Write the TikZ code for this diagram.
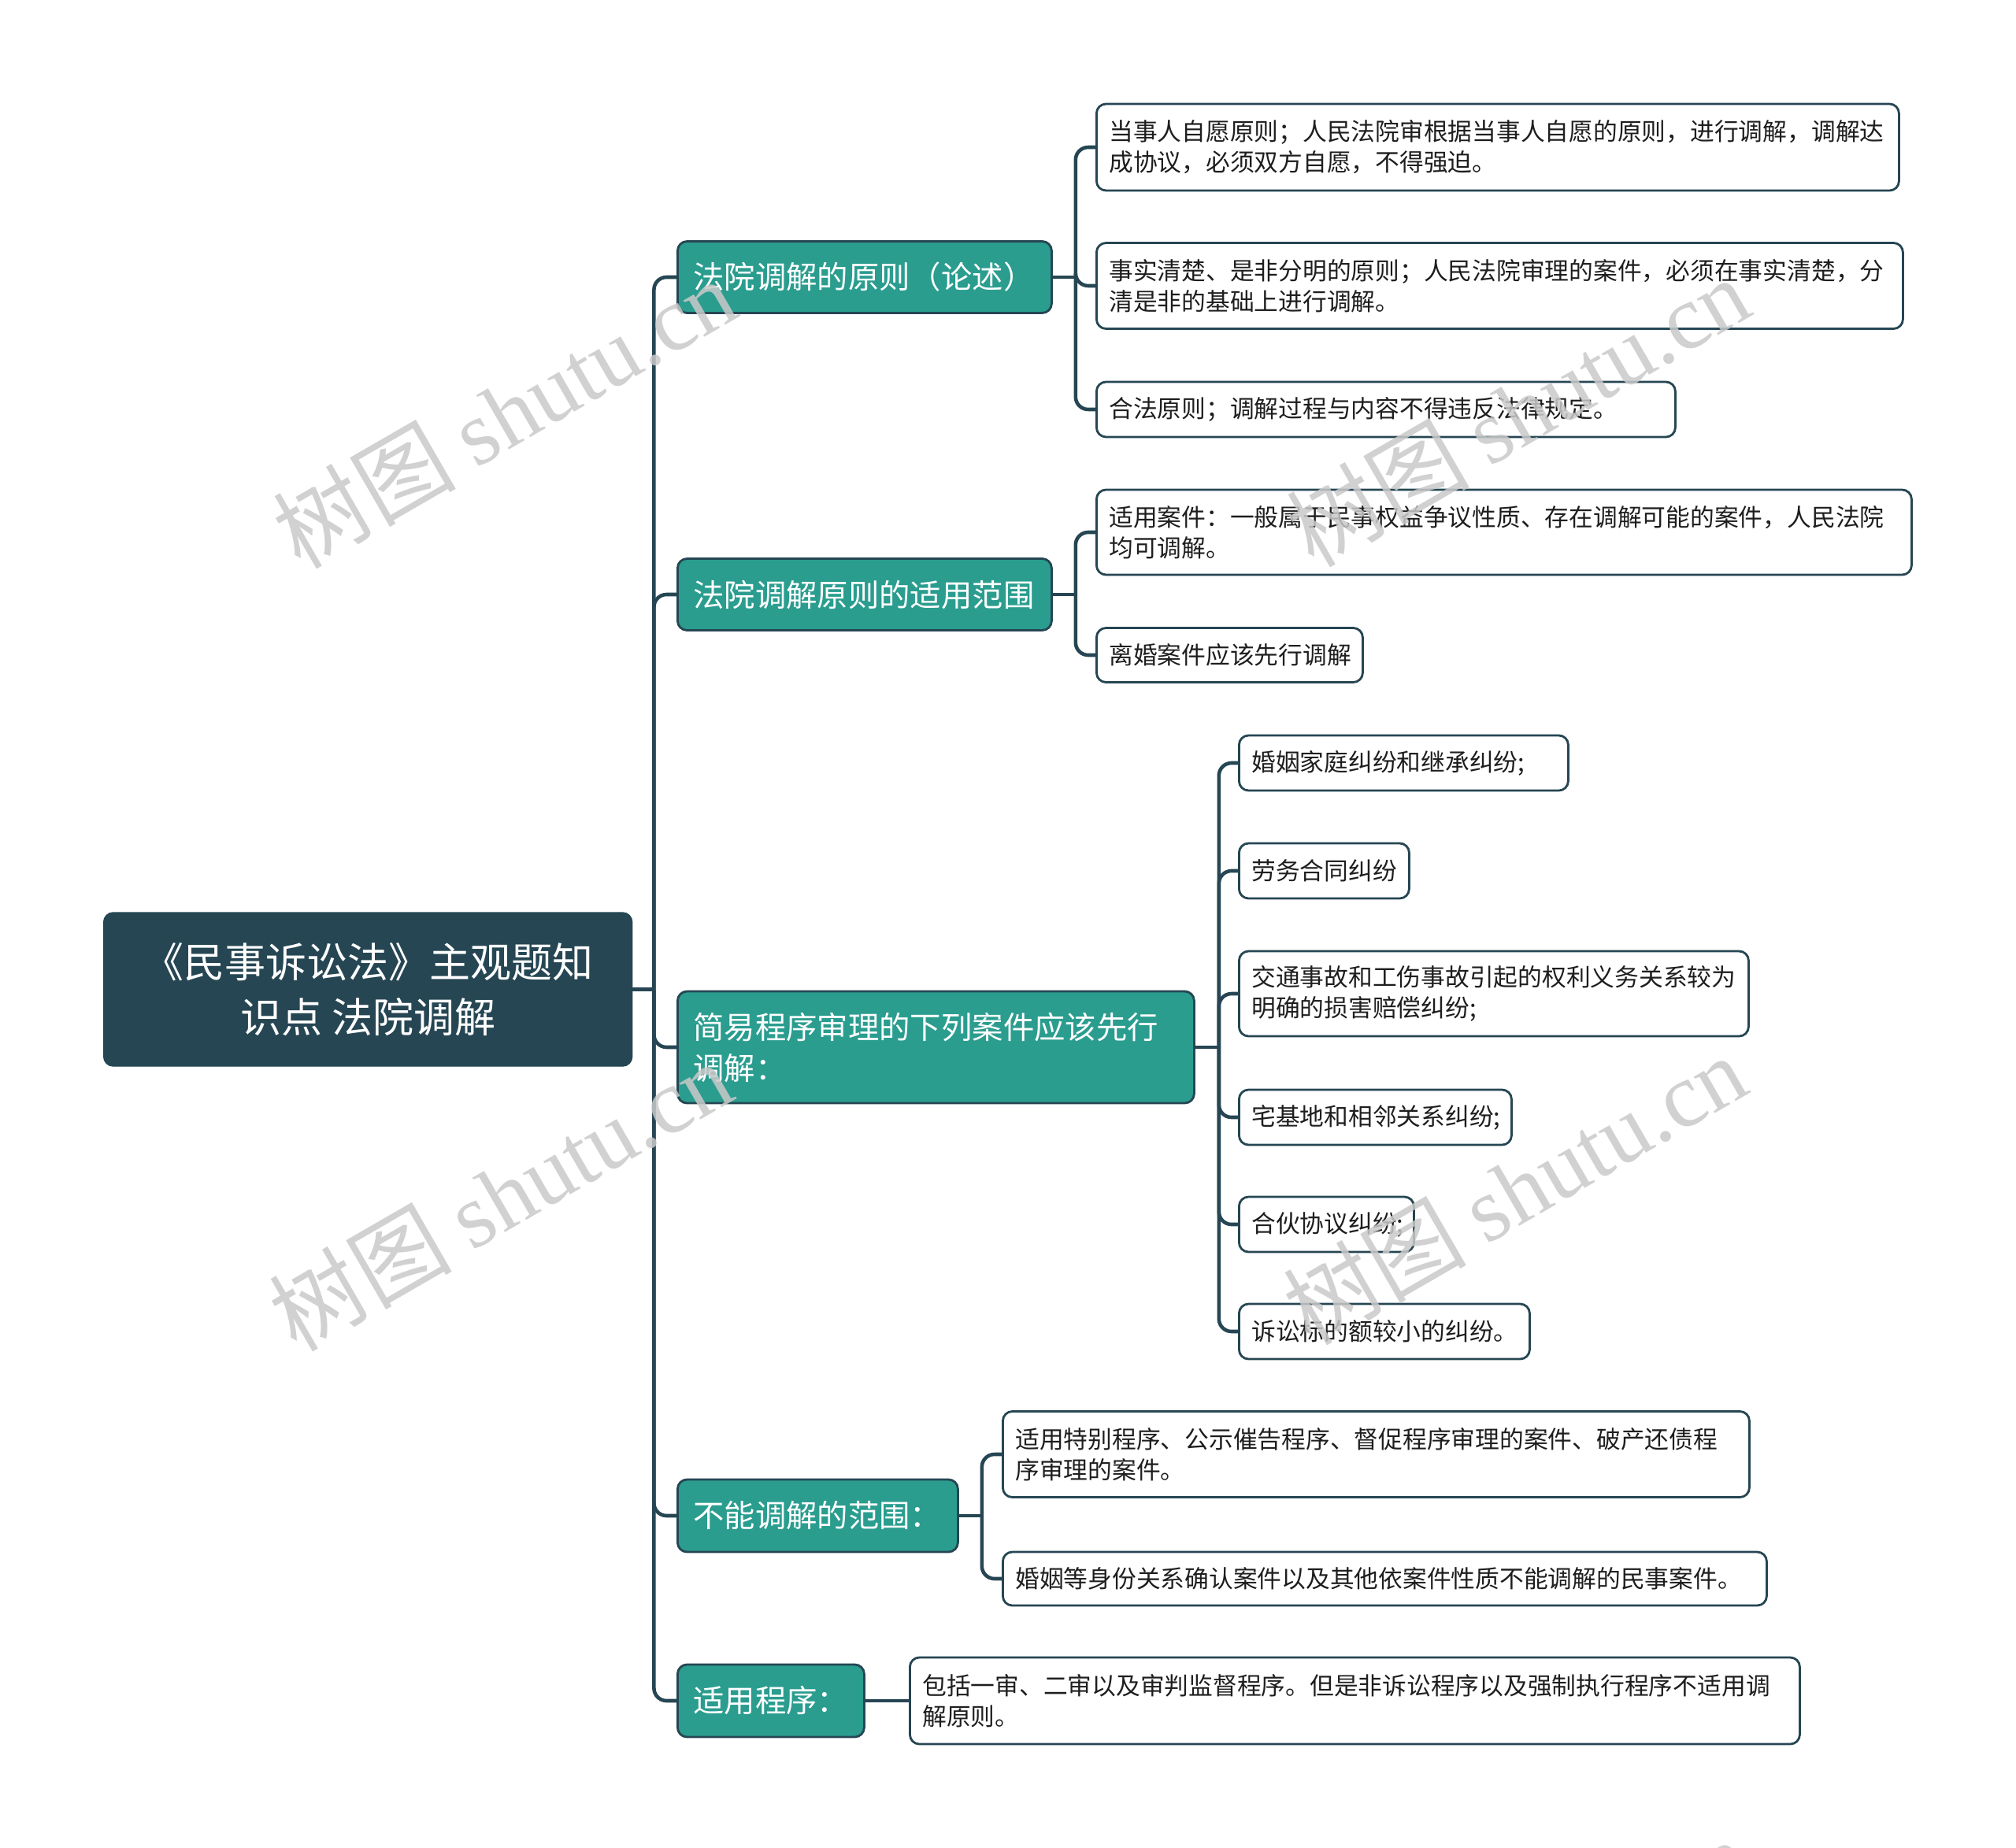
\documentclass[tikz,border=0pt]{standalone}
\usepackage{fontspec}
\setmainfont{Noto Sans CJK SC}
\newfontfamily\wmserif{Liberation Serif}
\usepackage{tikz}
\usetikzlibrary{positioning, calc}
\definecolor{mapDark}{HTML}{264653}
\definecolor{mapTeal}{HTML}{2A9D8F}
\definecolor{mapInk} {HTML}{1E1E1E}

\begin{document}
\begin{tikzpicture}[x=1cm, y=-1cm,
    link/.style={draw=mapDark, line width=1.3pt, rounded corners=1.6mm},
    rootbox/.style={fill=mapDark, draw=mapDark, rounded corners=1.2mm, text=white,
      align=center, anchor=west, minimum width=6.71cm, minimum height=1.95cm,
      font=\fontsize{14.8pt}{19.9pt}\selectfont},
    topic/.style={fill=mapTeal, draw=mapDark, line width=0.8pt, rounded corners=1.2mm,
      text=white, align=left, anchor=west, inner xsep=2mm,
      font=\fontsize{11.2pt}{14.8pt}\selectfont},
    leaf/.style={fill=white, draw=mapDark, line width=0.8pt, rounded corners=1.2mm,
      text=mapInk, align=left, anchor=west, inner xsep=1.6mm,
      font=\fontsize{8.75pt}{11.1pt}\selectfont},
    watermark/.style={rotate=30, text=gray!42, text opacity=0.85,
      font=\fontsize{33pt}{33pt}\selectfont},
  ]
  \useasboundingbox (0,0) rectangle (25.6,23.47);

  % root and main topics
  \node[rootbox] (root) at (1.31,12.565) {《民事诉讼法》主观题知\\识点 法院调解};
  \node[topic, text width=4.35cm, minimum height=0.91cm] (p1) at (8.59,3.52) {法院调解的原则（论述）};
  \node[topic, text width=4.35cm, minimum height=0.91cm] (p2) at (8.59,7.55) {法院调解原则的适用范围};
  \node[topic, text width=6.16cm, minimum height=1.42cm] (p3) at (8.59,13.30) {简易程序审理的下列案件应该先行\\调解：};
  \node[topic, text width=3.16cm, minimum height=0.92cm] (p4) at (8.59,19.25) {不能调解的范围：};
  \node[topic, text width=1.97cm, minimum height=0.92cm] (p5) at (8.59,21.60) {适用程序：};

  % leaves
  \node[leaf, text width=9.87cm, minimum height=1.10cm] (g1a) at (13.91,1.87) {当事人自愿原则；人民法院审根据当事人自愿的原则，进行调解，调解达\\成协议，必须双方自愿，不得强迫。};
  \node[leaf, text width=9.92cm, minimum height=1.09cm] (g1b) at (13.91,3.63) {事实清楚、是非分明的原则；人民法院审理的案件，必须在事实清楚，分\\清是非的基础上进行调解。};
  \node[leaf, text width=7.03cm, minimum height=0.70cm] (g1c) at (13.91,5.20) {合法原则；调解过程与内容不得违反法律规定。};
  \node[leaf, text width=10.03cm, minimum height=1.08cm] (g2a) at (13.91,6.76) {适用案件：一般属于民事权益争议性质、存在调解可能的案件，人民法院\\均可调解。};
  \node[leaf, text width=3.06cm, minimum height=0.69cm] (g2b) at (13.91,8.32) {离婚案件应该先行调解};
  \foreach \n/\y/\w/\t in {g3a/9.69/3.86/{婚姻家庭纠纷和继承纠纷;},
      g3b/11.06/1.84/{劳务合同纠纷},
      g3d/14.19/3.14/{宅基地和相邻关系纠纷;},
      g3e/15.55/1.90/{合伙协议纠纷;},
      g3f/16.91/3.37/{诉讼标的额较小的纠纷。}}{
    \node[leaf, text width=\w cm, minimum height=0.70cm] (\n) at (15.72,\y) {\t};
  }
  \node[leaf, text width=6.15cm, minimum height=1.08cm] (g3c) at (15.72,12.62) {交通事故和工伤事故引起的权利义务关系较为\\明确的损害赔偿纠纷;};
  \node[leaf, text width=9.16cm, minimum height=1.09cm] (g4a) at (12.72,18.47) {适用特别程序、公示催告程序、督促程序审理的案件、破产还债程\\序审理的案件。};
  \node[leaf, text width=9.38cm, minimum height=0.68cm] (g4b) at (12.72,20.05) {婚姻等身份关系确认案件以及其他依案件性质不能调解的民事案件。};
  \node[leaf, text width=10.98cm, minimum height=1.10cm] (g5a) at (11.54,21.60) {包括一审、二审以及审判监督程序。但是非诉讼程序以及强制执行程序不适用调\\解原则。};

  % connectors
  \coordinate (jRoot) at ($(root.east)+(0.27,0)$);
  \draw[link] (root.east) -- (jRoot);
  \foreach \t in {p1,p2,p3,p4,p5}
    \draw[link] (jRoot) |- (\t.west);

  \coordinate (j1) at ($(p1.east)+(0.29,0)$);
  \draw[link] (p1.east) -- (j1);
  \foreach \t in {g1a,g1b,g1c}
    \draw[link] (j1) |- (\t.west);

  \coordinate (j2) at ($(p2.east)+(0.29,0)$);
  \draw[link] (p2.east) -- (j2);
  \foreach \t in {g2a,g2b}
    \draw[link] (j2) |- (\t.west);

  \coordinate (j3) at ($(p3.east)+(0.30,0)$);
  \draw[link] (p3.east) -- (j3);
  \foreach \t in {g3a,g3b,g3c,g3d,g3e,g3f}
    \draw[link] (j3) |- (\t.west);

  \coordinate (j4) at ($(p4.east)+(0.29,0)$);
  \draw[link] (p4.east) -- (j4);
  \foreach \t in {g4a,g4b}
    \draw[link] (j4) |- (\t.west);

  \draw[link] (p5.east) -- (g5a.west);

  % watermark
  \begin{scope}
    \clip (0,0) rectangle (25.6,23.47);
    \foreach \wx/\wy in {6.40/5.24, 19.27/5.22, 6.35/15.18, 19.23/15.10, 6.40/25.14, 19.27/25.06}
      \node[watermark] at (\wx,\wy) {树图 {\wmserif shutu.cn}};
  \end{scope}
\end{tikzpicture}
\end{document}
